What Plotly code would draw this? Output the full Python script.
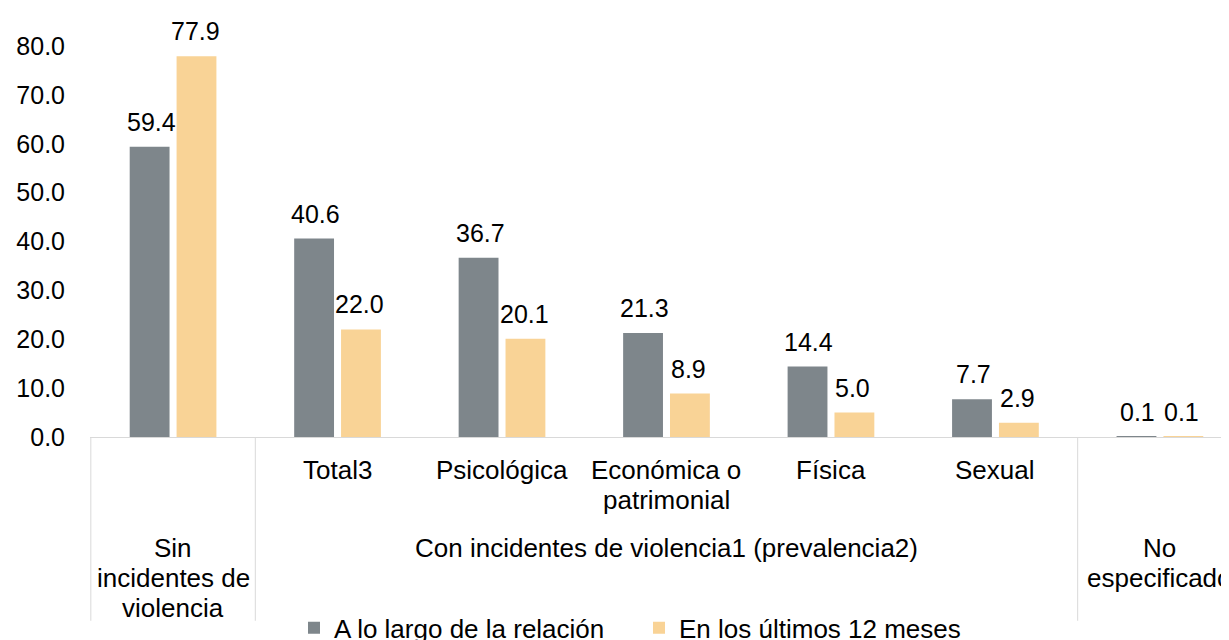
import plotly.graph_objects as go

########### Data ######

categories = ["Sin incidentes de violencia", "Total3", "Psicológica",
              "Económica o patrimonial", "Física", "Sexual", "No especificado"]
sub_labels = ["", "Total3", "Psicológica", "Económica o<br>patrimonial",
              "Física", "Sexual", ""]
group_labels = ["Sin<br>incidentes de<br>violencia",
                "Con incidentes de violencia1 (prevalencia2)",
                "No<br>especificado"]
group_centers = [0, 3, 6]        # category index at the middle of each group
group_bounds = [-0.5, 0.5, 5.5]  # separators between groups

serie_total = [59.4, 40.6, 36.7, 21.3, 14.4, 7.7, 0.1]
serie_12m = [77.9, 22.0, 20.1, 8.9, 5.0, 2.9, 0.1]
names = ["A lo largo de la relación", "En los últimos 12 meses"]
y_ticks = [0, 10, 20, 30, 40, 50, 60, 70, 80]

GRAY = "#7E868B"
ORANGE = "#F9D396"
FONT = "Liberation Sans, Arial, sans-serif"
LINE_H = 30  # px between wrapped label lines


def add_label(x, y, text, size=26):
    # one annotation per line so line spacing matches the original
    for k, line in enumerate(text.split("<br>")):
        fig.add_annotation(x=x, y=y, text=line, showarrow=False,
                           xref="x", yref="paper", yanchor="middle",
                           yshift=-LINE_H * k,
                           font=dict(size=size, color="black"))


########### Figure ######

fig = go.Figure()
fig.add_trace(go.Bar(x=categories, y=serie_total, name=names[0],
                     marker=dict(color=GRAY, line=dict(width=0))))
fig.add_trace(go.Bar(x=categories, y=serie_12m, name=names[1],
                     marker=dict(color=ORANGE, line=dict(width=0))))

# value labels above each bar
for serie, shift in [(serie_total, -22), (serie_12m, 22)]:
    for cat, val in zip(categories, serie):
        fig.add_annotation(x=cat, y=val, text="%.1f" % val, showarrow=False,
                           xref="x", yref="y", yanchor="bottom", xshift=shift,
                           yshift=9, font=dict(size=25, color="black"))

# inner category labels
for i, lab in enumerate(sub_labels):
    if lab:
        add_label(i, -0.084, lab)

# outer group labels
for c, lab in zip(group_centers, group_labels):
    add_label(c, -0.284, lab)

# group separators
for b in group_bounds:
    fig.add_shape(type="line", xref="x", yref="paper", x0=b, x1=b,
                  y0=0, y1=-0.47, line=dict(color="#D9D9D9", width=1))

fig.update_layout(
    width=1221, height=632,
    margin=dict(l=82, r=0, t=38, b=203, autoexpand=False),
    paper_bgcolor="white", plot_bgcolor="white",
    font=dict(family=FONT, color="black"),
    barmode="group", bargap=0.43, bargroupgap=0.15,
    showlegend=True,
    legend=dict(orientation="h", x=0.482, xanchor="center", y=-0.488,
                yanchor="middle", font=dict(size=26), entrywidth=300,
                bgcolor="rgba(0,0,0,0)"),
)
fig.update_xaxes(range=[-0.505, 6.42], showticklabels=False, ticks="",
                 showline=True, linecolor="#D9D9D9", linewidth=1,
                 showgrid=False, zeroline=False)
fig.update_yaxes(range=[0, 80], tickvals=y_ticks, tickformat=".1f",
                 showgrid=False, zeroline=False, showline=False, ticks="",
                 ticklabelstandoff=24, tickfont=dict(size=25, color="black"))

fig.write_html("out.html")
